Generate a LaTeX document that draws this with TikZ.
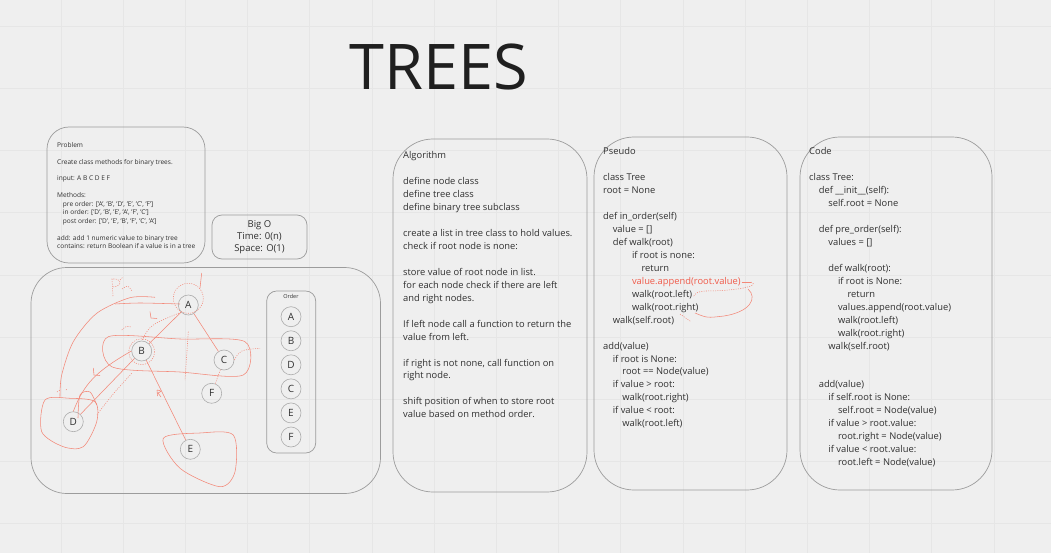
\documentclass[tikz,border=0pt]{standalone}
\usepackage{fontspec}
\setmainfont{Open Sans}
\usetikzlibrary{positioning, calc}
\definecolor{bgc}{HTML}{EFEFEF}
\definecolor{gridc}{HTML}{E6E6E6}
\definecolor{framec}{HTML}{9C9C9C}
\definecolor{inkc}{HTML}{F38878}
\definecolor{inkd}{HTML}{EF5B4A}
\definecolor{txt}{HTML}{303030}
\newcommand{\ind}[1]{\hspace*{#1\dimexpr 9.6pt\relax}}
\tikzset{
  panel/.style={draw=framec, line width=0.7pt, rounded corners=#1},
  panel/.default=40pt,
  notes/.style={anchor=north west, inner sep=0pt, align=left, text=txt,
                font=\fontsize{9.35}{12.95}\selectfont},
  leaf/.style={circle, draw=gray!65, line width=0.6pt, minimum size=20pt,
               inner sep=0pt, text=txt, font=\fontsize{10}{12}\selectfont},
  ink/.style={draw=inkc, line width=0.55pt},
  dotink/.style={ink, dash pattern=on 1pt off 1.3pt},
}

\begin{document}
\begin{tikzpicture}[x=1pt, y=-1pt]

% ── canvas ───────────────────────────────────────────────────────────
\fill[bgc] (0,0) rectangle (1051,553);
\useasboundingbox (0,0) rectangle (1051,553);
\foreach \gx in {0,...,16} \draw[gridc, line width=0.8pt] (61+62.2*\gx,0) -- (61+62.2*\gx,553);
\foreach \gy in {0,...,8} \draw[gridc, line width=0.8pt] (0,26.2+62.2*\gy) -- (1051,26.2+62.2*\gy);

% ── title ────────────────────────────────────────────────────────────
\node[font=\fontsize{63}{70}\selectfont, text=black!88, inner sep=0pt] (title) at (438.5,67.5) {TREES};

% ── problem ──────────────────────────────────────────────────────────
\draw[panel=22pt] (47,127) rectangle (205,263);
\node[notes, font=\fontsize{6.55}{8.45}\selectfont] (problem) at (57,142)
  {Problem\\ ~\\
   Create class methods for binary trees.\\ ~\\
   input: A B C D E F\\ ~\\
   Methods:\\
   \ind{0.6}pre order: ['A', 'B', 'D', 'E', 'C', 'F']\\
   \ind{0.6}in order: ['D', 'B', 'E', 'A', 'F', 'C']\\
   \ind{0.6}post order: ['D', 'E', 'B', 'F', 'C', 'A']\\ ~\\
   add: add 1 numeric value to binary tree\\
   contains: return Boolean if a value is in a tree};

% ── big O ────────────────────────────────────────────────────────────
\node[panel=10pt, minimum width=95pt, minimum height=44pt, align=center, text=txt,
      font=\fontsize{9.5}{12}\selectfont] (bigo) at (259.5,237)
  {Big O\\Time: 0(n)\\Space: O(1)};

% ── tree sketch ──────────────────────────────────────────────────────
\draw[panel=36pt] (31,267.5) rectangle (380.5,493.5);

\node[leaf] (nA) at (188.3,305) {A};
\node[leaf] (nB) at (141.7,351) {B};
\node[leaf] (nC) at (224,360) {C};
\node[leaf] (nF) at (211.7,393.3) {F};
\node[leaf] (nD) at (73.3,421.7) {D};
\node[leaf] (nE) at (190.3,449.3) {E};

% red edges
\draw[ink] (nA) -- (nB);
\draw[ink] (nA) -- (nC);
\draw[ink] (nB) -- (nD);
\draw[ink] (nB) -- (nE);
\draw[dotink] (nC) -- (nF);
\draw[dotink] (nA.south west) .. controls (150,325) .. (nB.north);
\draw[ink] (nB.west) .. controls (95,372) and (84,384) .. (nD.north);
\draw[dotink] (131.7,373.3) .. controls (112,395) .. (96.7,415);
\draw[dotink] (nC.east) .. controls (240,350) .. (260,348.3);

% red scribbles
\draw[dotink] (188.3,298.3) circle (15);
\draw[dotink] (141.7,351.7) circle (13);
\draw[ink] (201.7,273) -- (200,288);
\draw[dotink] (188.3,331.7) -- (185,380);
\draw[ink] plot[smooth] coordinates {(155,297.3) (130,297.7) (96.7,313.3) (73.3,341.7) (61.7,375) (60,396.7)};
\draw[ink] plot[smooth] coordinates {(115,304) (140,303) (180,304)};
\draw[ink] plot[smooth cycle] coordinates {(45,400) (70,398.3) (95,401.7) (96.7,421.7) (83.3,446.7) (63.3,446.7) (41.7,431.7)};
\draw[ink] plot[smooth] coordinates {(78,418) (80,395) (90,392) (96.7,405)};
\draw[ink] plot[smooth cycle] coordinates {(163.3,438.3) (200,433) (233.3,435) (235,471.7) (220,486.7) (180,468.3)};
\draw[ink] plot[smooth cycle] coordinates {(108.3,336.7) (180,339) (245,341.7) (243.3,375) (180,372) (111.7,366.7)};
\draw[ink] (150,311.7) -- (151,318) -- (157,318.5);
\draw[ink] (93.3,368) -- (94,375) -- (100,375.5);
\draw[ink] (157,390) -- (157.5,396) (157,390) .. controls (162,391) .. (158,393) -- (161,397);
\draw[dotink] (113,296) -- (112,279) .. controls (122,278) and (123,286) .. (113,287);
\draw[dotink] (120,280) -- (123,277) (122,289) .. controls (128,285) .. (132,291);
\draw[dotink] (121.7,330) .. controls (126,326) .. (131.7,327);
\draw[dotink] (57,392) -- (60,390) (66,390) -- (67,389);

% ── order column ─────────────────────────────────────────────────────
\draw[panel=10pt] (266.7,291) rectangle (315.7,453);
\node[text=txt, font=\fontsize{5.5}{6}\selectfont] (ordertag) at (291,296.5) {Order};
\foreach \lbl [count=\k] in {A,B,D,C,E,F}
  \node[leaf] (o\k) at (291,316.7+24.06*\k-24.06) {\lbl};

% ── algorithm ────────────────────────────────────────────────────────
\draw[panel] (393,139) rectangle (587,492);
\node[notes] (algo) at (403,151.5)
  {Algorithm\\ ~\\
   define node class\\
   define tree class\\
   define binary tree subclass\\ ~\\
   create a list in tree class to hold values.\\
   check if root node is none:\\ ~\\
   store value of root node in list.\\
   for each node check if there are left\\
   and right nodes.\\ ~\\
   If left node call a function to return the\\
   value from left.\\ ~\\
   if right is not none, call function on\\
   right node.\\ ~\\
   shift position of when to store root\\
   value based on method order.};

% ── pseudo ───────────────────────────────────────────────────────────
\draw[panel] (594,137) rectangle (787,490);
\node[notes] (pseudo) at (603,147.5)
  {Pseudo\\ ~\\
   class Tree\\
   root = None\\ ~\\
   def in\_order(self)\\
   \ind{1}value = []\\
   \ind{1}def walk(root)\\
   \ind{3}if root is none:\\
   \ind{4}return\\
   \ind{3}\textcolor{inkd}{value.append(root.value)}\\
   \ind{3}walk(root.left)\\
   \ind{3}walk(root.right)\\
   \ind{1}walk(self.root)\\ ~\\
   add(value)\\
   \ind{1}if root is None:\\
   \ind{2}root == Node(value)\\
   \ind{1}if value > root:\\
   \ind{2}walk(root.right)\\
   \ind{1}if value < root:\\
   \ind{2}walk(root.left)};

\draw[ink] (741.5,282) -- (751,282);
\draw[dotink] (751,282) .. controls (761,286) and (736,291) .. (705,291) .. controls (697,292) .. (693,297);
\draw[ink] (748,289) .. controls (758,298) and (750,312) .. (724,316) .. controls (707,318) .. (695,313);
\draw[dotink] (680,314) -- (691,321.7);

% ── code ─────────────────────────────────────────────────────────────
\draw[panel] (800,137) rectangle (992,490);
\node[notes] (code) at (809,147.5)
  {Code\\ ~\\
   class Tree:\\
   \ind{1}def \_\_init\_\_(self):\\
   \ind{2}self.root = None\\ ~\\
   \ind{1}def pre\_order(self):\\
   \ind{2}values = []\\ ~\\
   \ind{2}def walk(root):\\
   \ind{3}if root is None:\\
   \ind{4}return\\
   \ind{3}values.append(root.value)\\
   \ind{3}walk(root.left)\\
   \ind{3}walk(root.right)\\
   \ind{2}walk(self.root)\\ ~\\ ~\\
   \ind{1}add(value)\\
   \ind{2}if self.root is None:\\
   \ind{3}self.root = Node(value)\\
   \ind{2}if value > root.value:\\
   \ind{3}root.right = Node(value)\\
   \ind{2}if value < root.value:\\
   \ind{3}root.left = Node(value)};

\end{tikzpicture}
\end{document}
